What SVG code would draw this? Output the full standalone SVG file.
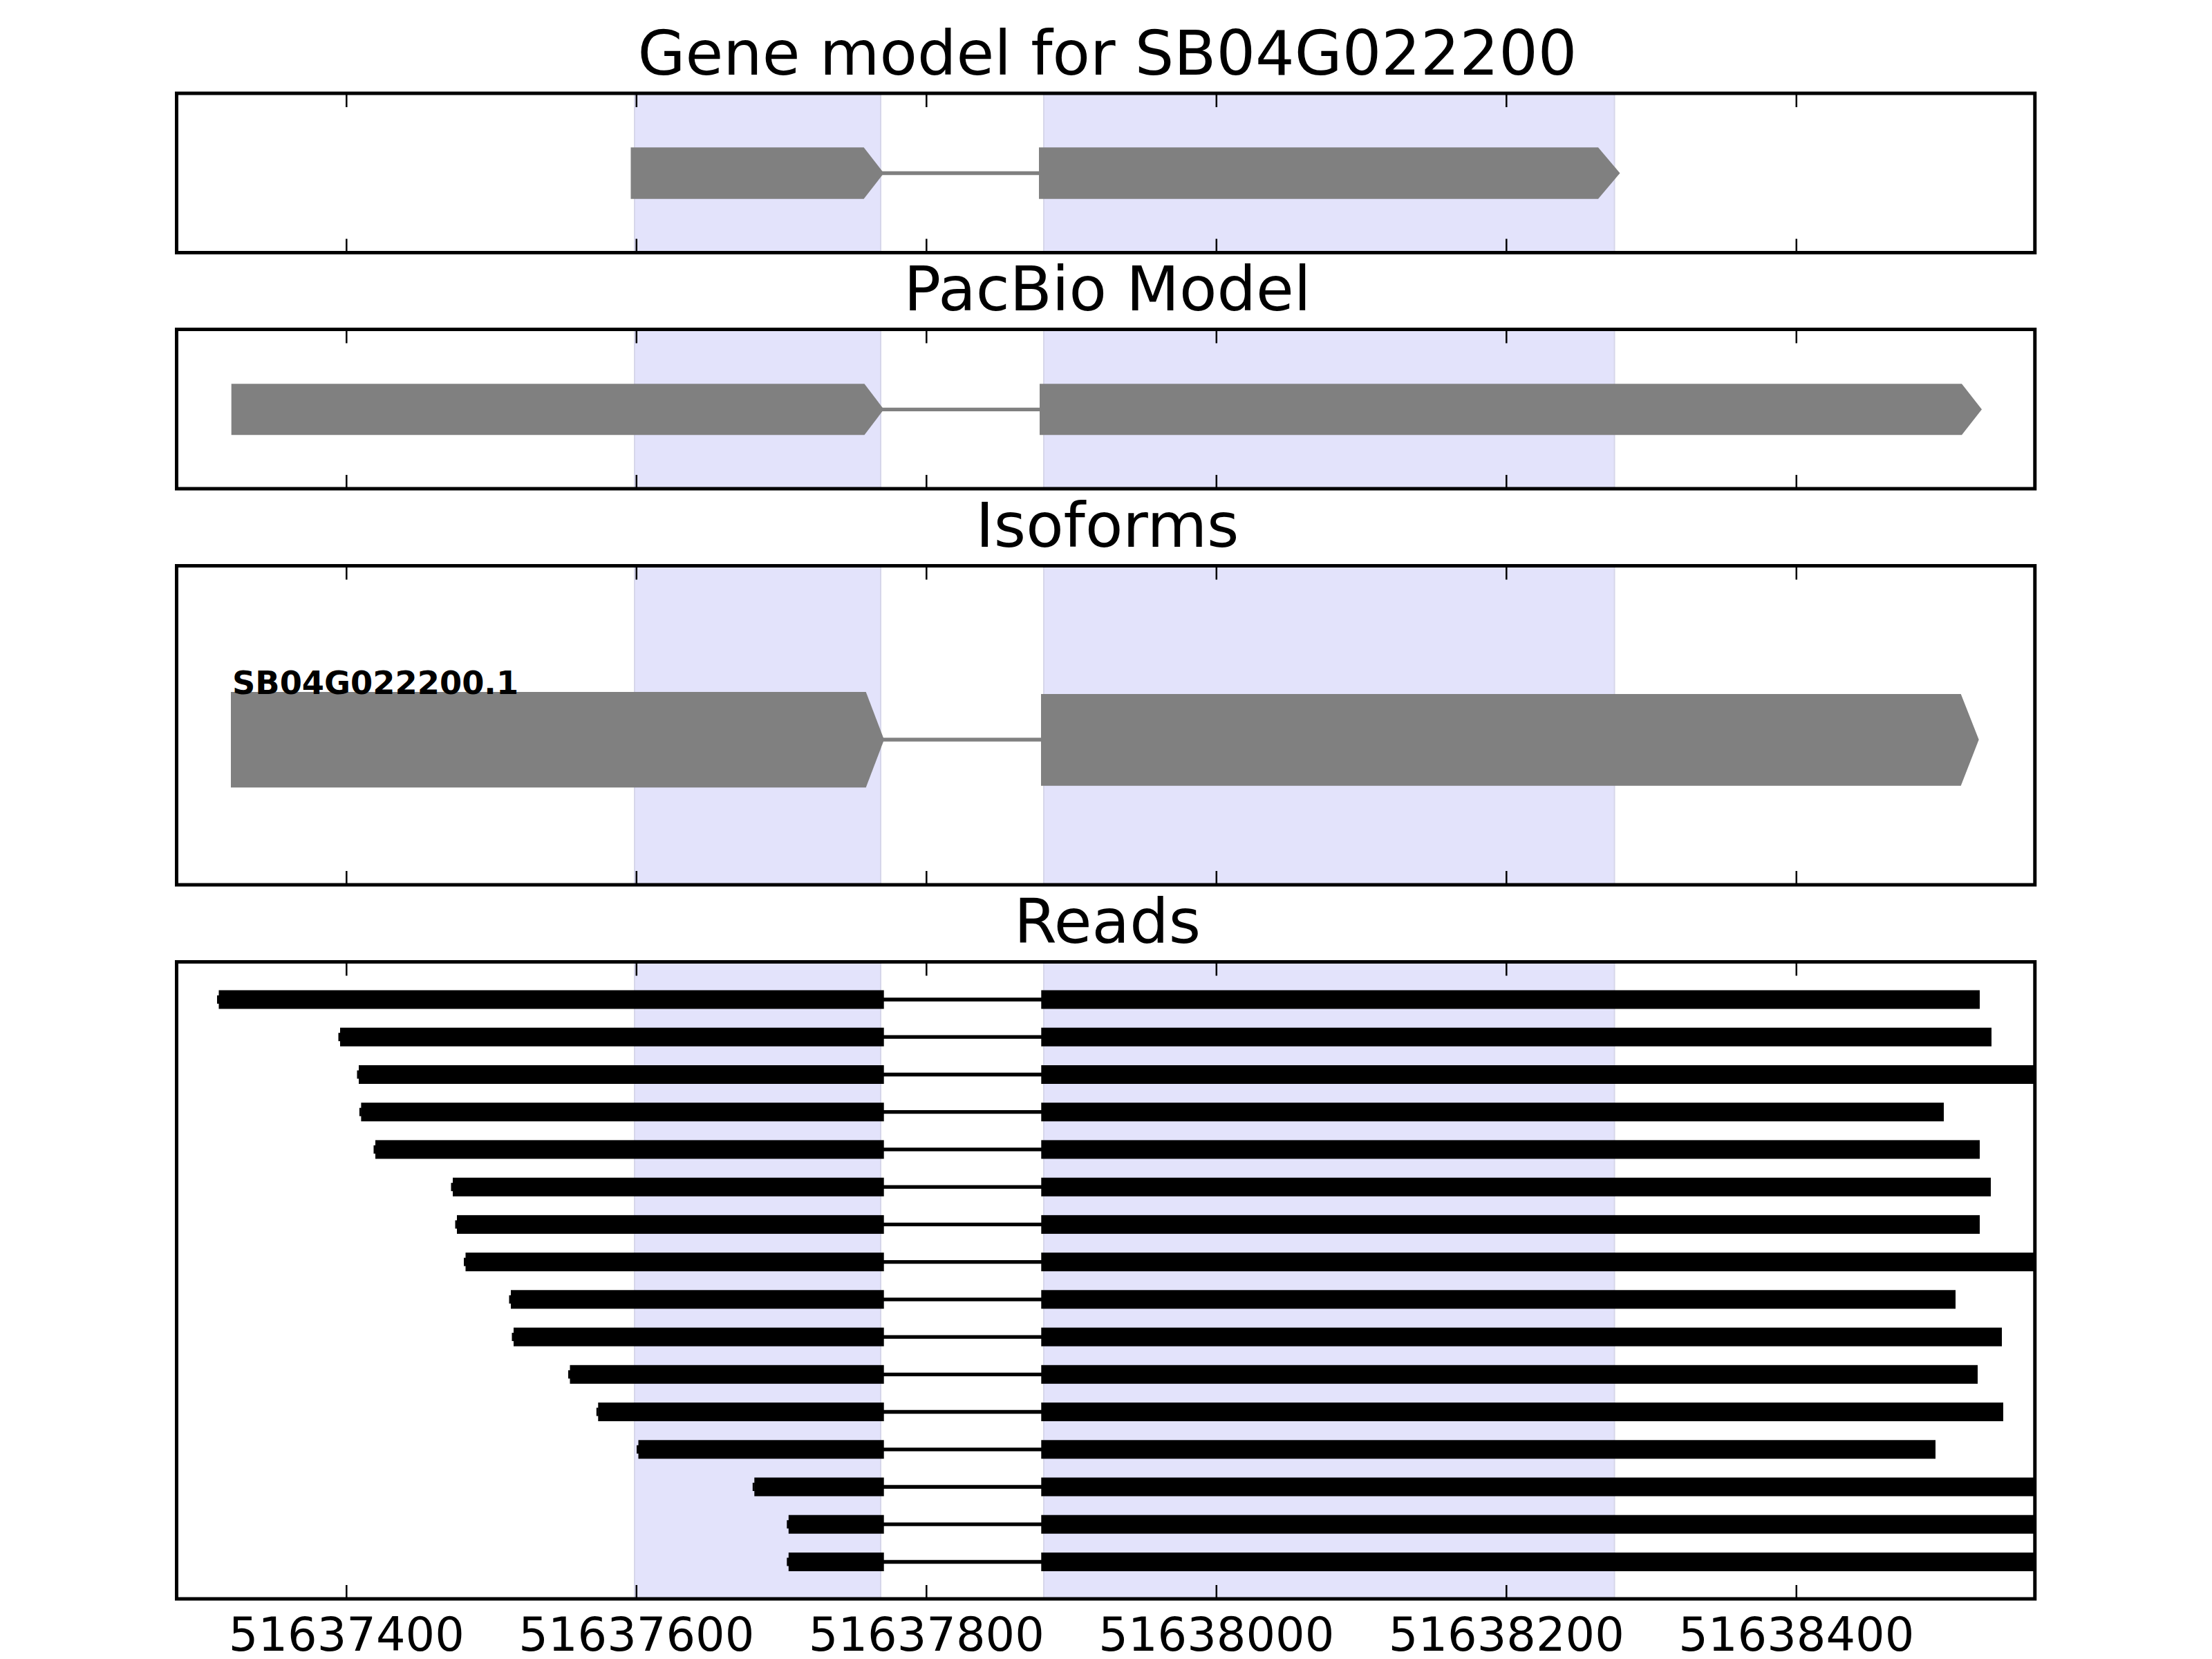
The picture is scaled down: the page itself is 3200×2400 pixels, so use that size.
<svg xmlns="http://www.w3.org/2000/svg" width="3200" height="2400" viewBox="0 0 3200 2400">
<style>
.title{font-family:"DejaVu Sans",sans-serif;font-size:89px;fill:#000;text-anchor:middle}
.tick{font-family:"DejaVu Sans",sans-serif;font-size:67px;fill:#000;text-anchor:middle}
.lbl{font-family:"DejaVu Sans",sans-serif;font-size:46.3px;font-weight:bold;fill:#000}
.frame{fill:none;stroke:#000;stroke-width:5}
.shade{fill:#e3e3fb;stroke:#d6d6ea;stroke-width:2}
.exon{fill:#808080}
.intron{stroke:#808080;stroke-width:5.3;fill:none}
.rintron{stroke:#000;stroke-width:5.3;fill:none}
.read{fill:#000}
.tk{stroke:#000;stroke-width:2.5}
</style>
<defs>
<clipPath id="c4"><rect x="255.5" y="1391.5" width="2688.3" height="921.5"/></clipPath>
</defs>
<rect width="3200" height="2400" fill="#fff"/>

<!-- shading -->
<g id="shading">
<rect class="shade" x="918" y="135" width="356" height="230.5"/>
<rect class="shade" x="1510" y="135" width="825.5" height="230.5"/>
<rect class="shade" x="918" y="476.5" width="356" height="230.5"/>
<rect class="shade" x="1510" y="476.5" width="825.5" height="230.5"/>
<rect class="shade" x="918" y="818.5" width="356" height="461.5"/>
<rect class="shade" x="1510" y="818.5" width="825.5" height="461.5"/>
<rect class="shade" x="918" y="1391.5" width="356" height="921.5"/>
<rect class="shade" x="1510" y="1391.5" width="825.5" height="921.5"/>
</g>

<!-- connectors -->
<g id="connectors">
<line class="intron" x1="1260" y1="250.5" x2="1510" y2="250.5"/>
<line class="intron" x1="1260" y1="592.3" x2="1510" y2="592.3"/>
<line class="intron" x1="1260" y1="1070" x2="1510" y2="1070"/>
<g clip-path="url(#c4)">
<line class="rintron" x1="1270" y1="1446.0" x2="1510" y2="1446.0"/>
<line class="rintron" x1="1270" y1="1500.2" x2="1510" y2="1500.2"/>
<line class="rintron" x1="1270" y1="1554.5" x2="1510" y2="1554.5"/>
<line class="rintron" x1="1270" y1="1608.7" x2="1510" y2="1608.7"/>
<line class="rintron" x1="1270" y1="1662.9" x2="1510" y2="1662.9"/>
<line class="rintron" x1="1270" y1="1717.2" x2="1510" y2="1717.2"/>
<line class="rintron" x1="1270" y1="1771.4" x2="1510" y2="1771.4"/>
<line class="rintron" x1="1270" y1="1825.6" x2="1510" y2="1825.6"/>
<line class="rintron" x1="1270" y1="1879.8" x2="1510" y2="1879.8"/>
<line class="rintron" x1="1270" y1="1934.1" x2="1510" y2="1934.1"/>
<line class="rintron" x1="1270" y1="1988.3" x2="1510" y2="1988.3"/>
<line class="rintron" x1="1270" y1="2042.5" x2="1510" y2="2042.5"/>
<line class="rintron" x1="1270" y1="2096.8" x2="1510" y2="2096.8"/>
<line class="rintron" x1="1270" y1="2151.0" x2="1510" y2="2151.0"/>
<line class="rintron" x1="1270" y1="2205.2" x2="1510" y2="2205.2"/>
<line class="rintron" x1="1270" y1="2259.5" x2="1510" y2="2259.5"/>
</g>
</g>

<!-- gene model -->
<g id="gene-model">
<polygon class="exon" points="912.5,213.3 1249.6,213.3 1278.6,250.5 1249.6,287.7 912.5,287.7"/>
<polygon class="exon" points="1503,213.3 2312,213.3 2343.5,250.5 2312,287.7 1503,287.7"/>
</g>

<!-- pacbio model -->
<g id="pacbio-model">
<polygon class="exon" points="334.7,555.3 1250.5,555.3 1278.6,592.3 1250.5,629.3 334.7,629.3"/>
<polygon class="exon" points="1504,555.3 2838,555.3 2867,592.3 2838,629.3 1504,629.3"/>
</g>

<!-- isoform -->
<g id="isoform-SB04G022200.1">
<polygon class="exon" points="334,1001 1252.7,1001 1279,1070 1252.7,1139.3 334,1139.3"/>
<polygon class="exon" points="1506,1004 2836.7,1004 2862.7,1070 2836.7,1136.7 1506,1136.7"/>
<text class="lbl" x="336" y="1004">SB04G022200.1</text>
</g>

<!-- reads -->
<g id="reads" clip-path="url(#c4)">
<g id="read-1"><rect class="read" x="316.5" y="1432.5" width="962.2" height="27"/><rect class="read" x="314" y="1440" width="3" height="12"/><rect class="read" x="1506.3" y="1432.5" width="1357.7" height="27"/></g>
<g id="read-2"><rect class="read" x="492" y="1486.7" width="786.7" height="27"/><rect class="read" x="489.5" y="1494.2" width="3" height="12"/><rect class="read" x="1506.3" y="1486.7" width="1374.7" height="27"/></g>
<g id="read-3"><rect class="read" x="519" y="1541" width="759.7" height="27"/><rect class="read" x="516.5" y="1548.5" width="3" height="12"/><rect class="read" x="1506.3" y="1541" width="1450" height="27"/></g>
<g id="read-4"><rect class="read" x="522.4" y="1595.2" width="756.3" height="27"/><rect class="read" x="519.9" y="1602.7" width="3" height="12"/><rect class="read" x="1506.3" y="1595.2" width="1305.7" height="27"/></g>
<g id="read-5"><rect class="read" x="543" y="1649.4" width="735.7" height="27"/><rect class="read" x="540.5" y="1656.9" width="3" height="12"/><rect class="read" x="1506.3" y="1649.4" width="1357.7" height="27"/></g>
<g id="read-6"><rect class="read" x="655" y="1703.7" width="623.7" height="27"/><rect class="read" x="652.5" y="1711.2" width="3" height="12"/><rect class="read" x="1506.3" y="1703.7" width="1373.7" height="27"/></g>
<g id="read-7"><rect class="read" x="661" y="1757.9" width="617.7" height="27"/><rect class="read" x="658.5" y="1765.4" width="3" height="12"/><rect class="read" x="1506.3" y="1757.9" width="1357.7" height="27"/></g>
<g id="read-8"><rect class="read" x="673.5" y="1812.1" width="605.2" height="27"/><rect class="read" x="671" y="1819.6" width="3" height="12"/><rect class="read" x="1506.3" y="1812.1" width="1450" height="27"/></g>
<g id="read-9"><rect class="read" x="739" y="1866.3" width="539.7" height="27"/><rect class="read" x="736.5" y="1873.8" width="3" height="12"/><rect class="read" x="1506.3" y="1866.3" width="1322.7" height="27"/></g>
<g id="read-10"><rect class="read" x="743" y="1920.6" width="535.7" height="27"/><rect class="read" x="740.5" y="1928.1" width="3" height="12"/><rect class="read" x="1506.3" y="1920.6" width="1389.7" height="27"/></g>
<g id="read-11"><rect class="read" x="824.5" y="1974.8" width="454.2" height="27"/><rect class="read" x="822" y="1982.3" width="3" height="12"/><rect class="read" x="1506.3" y="1974.8" width="1354.7" height="27"/></g>
<g id="read-12"><rect class="read" x="865.3" y="2029" width="413.4" height="27"/><rect class="read" x="862.8" y="2036.5" width="3" height="12"/><rect class="read" x="1506.3" y="2029" width="1391.7" height="27"/></g>
<g id="read-13"><rect class="read" x="923.5" y="2083.3" width="355.2" height="27"/><rect class="read" x="921" y="2090.8" width="3" height="12"/><rect class="read" x="1506.3" y="2083.3" width="1293.7" height="27"/></g>
<g id="read-14"><rect class="read" x="1091.3" y="2137.5" width="187.4" height="27"/><rect class="read" x="1088.8" y="2145" width="3" height="12"/><rect class="read" x="1506.3" y="2137.5" width="1450" height="27"/></g>
<g id="read-15"><rect class="read" x="1140.8" y="2191.7" width="137.9" height="27"/><rect class="read" x="1138.3" y="2199.2" width="3" height="12"/><rect class="read" x="1506.3" y="2191.7" width="1450" height="27"/></g>
<g id="read-16"><rect class="read" x="1140.8" y="2246" width="137.9" height="27"/><rect class="read" x="1138.3" y="2253.5" width="3" height="12"/><rect class="read" x="1506.3" y="2246" width="1450" height="27"/></g>
</g>

<!-- ticks -->
<g id="ticks">
<path class="tk" d="M501.3,135v20M920.8,135v20M1340.3,135v20M1759.8,135v20M2179.3,135v20M2598.8,135v20
M501.3,365.5v-20M920.8,365.5v-20M1340.3,365.5v-20M1759.8,365.5v-20M2179.3,365.5v-20M2598.8,365.5v-20
M501.3,476.5v20M920.8,476.5v20M1340.3,476.5v20M1759.8,476.5v20M2179.3,476.5v20M2598.8,476.5v20
M501.3,707v-20M920.8,707v-20M1340.3,707v-20M1759.8,707v-20M2179.3,707v-20M2598.8,707v-20
M501.3,818.5v20M920.8,818.5v20M1340.3,818.5v20M1759.8,818.5v20M2179.3,818.5v20M2598.8,818.5v20
M501.3,1280v-20M920.8,1280v-20M1340.3,1280v-20M1759.8,1280v-20M2179.3,1280v-20M2598.8,1280v-20
M501.3,1391.5v20M920.8,1391.5v20M1340.3,1391.5v20M1759.8,1391.5v20M2179.3,1391.5v20M2598.8,1391.5v20
M501.3,2313v-20M920.8,2313v-20M1340.3,2313v-20M1759.8,2313v-20M2179.3,2313v-20M2598.8,2313v-20"/>
</g>

<!-- frames -->
<g id="frames">
<rect class="frame" x="255.5" y="135" width="2688.3" height="230.5"/>
<rect class="frame" x="255.5" y="476.5" width="2688.3" height="230.5"/>
<rect class="frame" x="255.5" y="818.5" width="2688.3" height="461.5"/>
<rect class="frame" x="255.5" y="1391.5" width="2688.3" height="921.5"/>
</g>

<!-- titles -->
<g id="titles">
<text class="title" x="1602" y="107.6">Gene model for SB04G022200</text>
<text class="title" x="1602" y="449.3">PacBio Model</text>
<text class="title" x="1602" y="791">Isoforms</text>
<text class="title" x="1602" y="1364">Reads</text>
</g>

<!-- tick labels -->
<g id="tick-labels">
<text class="tick" x="501.3" y="2388">51637400</text>
<text class="tick" x="920.8" y="2388">51637600</text>
<text class="tick" x="1340.3" y="2388">51637800</text>
<text class="tick" x="1759.8" y="2388">51638000</text>
<text class="tick" x="2179.3" y="2388">51638200</text>
<text class="tick" x="2598.8" y="2388">51638400</text>
</g>
</svg>
